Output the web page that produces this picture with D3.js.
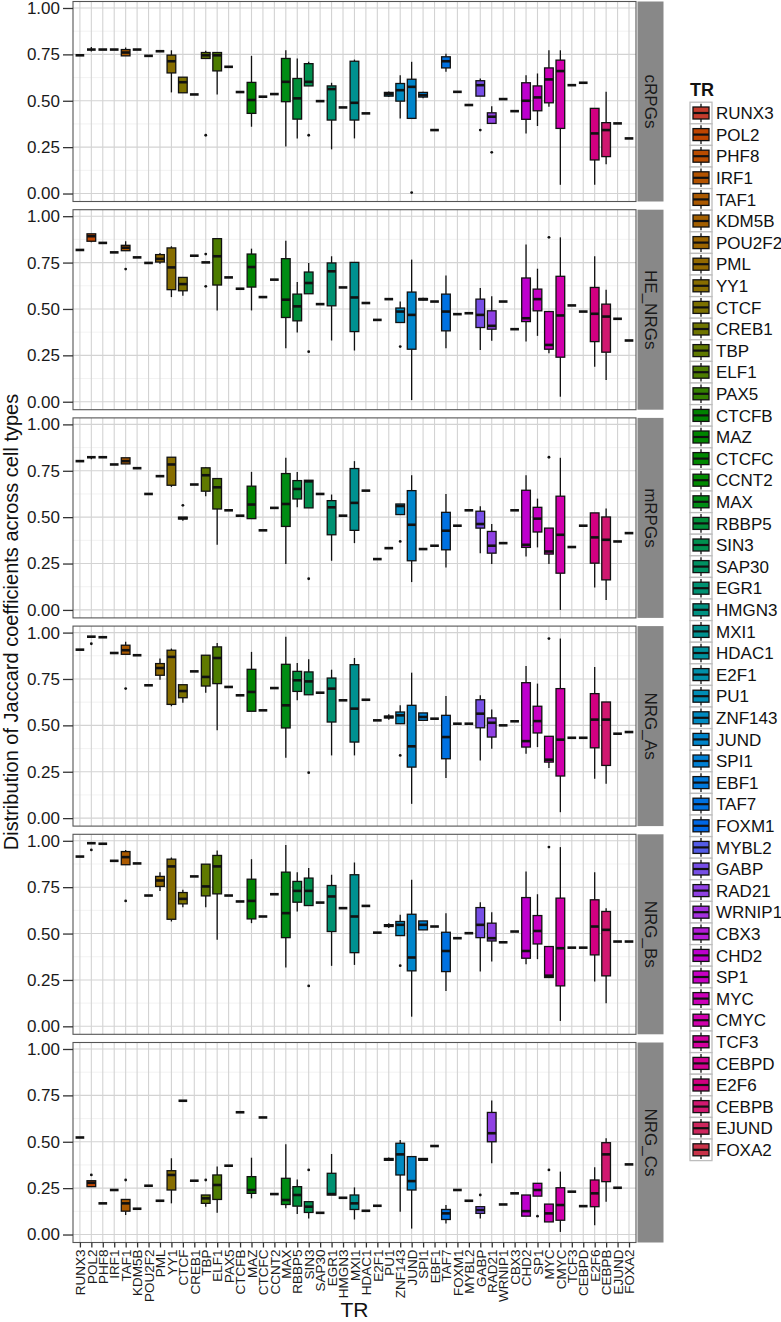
<!DOCTYPE html>
<html><head><meta charset="utf-8">
<script src="https://cdn.jsdelivr.net/npm/d3@7"></script>
<style>body{margin:0;background:#fff}svg{display:block;font-family:"Liberation Sans",Arial,sans-serif}</style>
</head><body><svg id="c" width="781" height="1322"></svg>
<script>
const trs = ["RUNX3","POL2","PHF8","IRF1","TAF1","KDM5B","POU2F2","PML","YY1","CTCF","CREB1","TBP","ELF1","PAX5","CTCFB","MAZ","CTCFC","CCNT2","MAX","RBBP5","SIN3","SAP30","EGR1","HMGN3","MXI1","HDAC1","E2F1","PU1","ZNF143","JUND","SPI1","EBF1","TAF7","FOXM1","MYBL2","GABP","RAD21","WRNIP1","CBX3","CHD2","SP1","MYC","CMYC","TCF3","CEBPD","E2F6","CEBPB","EJUND","FOXA2"];
const facets = ["cRPGs","HE_NRGs","mRPGs","NRG_As","NRG_Bs","NRG_Cs"];
const yTicks = [0,0.25,0.5,0.75,1];
const yMinor = [0.125,0.375,0.625,0.875];

// each entry: single value (all stats equal) or [lower whisker, q1, median, q3, upper whisker]
const cRPGs = [
 0.745,[0.765,0.776,0.776,0.776,0.79],0.776,0.776,[0.742,0.742,0.76,0.776,0.787],0.776,0.742,0.767,[0.545,0.65,0.713,0.746,0.772],[0.543,0.543,0.60,0.627,0.627],
 0.534,[0.728,0.728,0.745,0.76,0.769],[0.534,0.661,0.745,0.76,0.76],0.683,0.547,[0.36,0.432,0.504,0.599,0.742],0.522,0.536,[0.254,0.495,0.602,0.728,0.772],[0.297,0.401,0.513,0.62,0.728],
 [0.58,0.58,0.602,0.70,0.71],0.498,[0.238,0.396,0.563,0.58,0.597],0.464,[0.297,0.396,0.489,0.713,0.722],0.432,null,[0.52,0.525,0.535,0.545,0.55],[0.405,0.498,0.557,0.593,0.638],[0.405,0.405,0.575,0.616,0.71],
 [0.513,0.52,0.53,0.545,0.548],0.342,[0.656,0.677,0.713,0.737,0.754],0.548,0.477,[0.525,0.525,0.584,0.608,0.62],[0.378,0.378,0.414,0.435,0.471],0.509,0.444,[0.324,0.40,0.50,0.597,0.638],
 [0.364,0.446,0.518,0.58,0.647],[0.468,0.489,0.615,0.677,0.772],[0.047,0.351,0.66,0.719,0.772],0.584,0.597,[0.047,0.181,0.324,0.459,0.459],[0.158,0.199,0.342,0.382,0.548],0.378,0.297
];
const HE_NRGs = [
 0.818,[0.86,0.865,0.892,0.905,0.905],0.856,0.805,[0.814,0.814,0.83,0.843,0.865],0.778,0.748,[0.744,0.753,0.77,0.793,0.802],[0.564,0.604,0.724,0.829,0.838],[0.571,0.598,0.634,0.67,0.67],
 0.787,0.751,[0.492,0.629,0.784,0.879,0.879],0.67,0.609,[0.492,0.618,0.726,0.796,0.825],0.564,0.658,[0.288,0.454,0.55,0.771,0.868],[0.373,0.436,0.514,0.58,0.645],
 [0.582,0.582,0.64,0.699,0.748],0.526,[0.33,0.517,0.703,0.748,0.784],0.616,[0.276,0.378,0.562,0.751,0.751],0.532,0.441,0.553,[0.427,0.427,0.486,0.505,0.54],[0.009,0.283,0.468,0.591,0.766],
 [0.545,0.548,0.553,0.556,0.56],0.54,[0.288,0.382,0.486,0.58,0.681],0.472,0.477,[0.279,0.40,0.468,0.553,0.613],[0.328,0.391,0.409,0.49,0.568],0.54,0.391,[0.324,0.432,0.45,0.667,0.847],
 [0.355,0.49,0.553,0.607,0.717],[0.261,0.283,0.306,0.486,0.486],[0.027,0.24,0.465,0.676,0.886],0.519,0.486,[0.189,0.324,0.474,0.616,0.784],[0.117,0.267,0.459,0.526,0.604],0.447,0.33
];
const mRPGs = [
 0.802,[0.812,0.823,0.823,0.823,0.823],0.823,0.784,[0.787,0.787,0.802,0.82,0.82],0.764,0.625,0.721,[0.663,0.672,0.784,0.823,0.823],[0.48,0.49,0.495,0.50,0.50],
 0.676,[0.613,0.64,0.726,0.766,0.77],[0.351,0.544,0.661,0.708,0.708],0.537,0.508,[0.492,0.492,0.568,0.667,0.744],0.429,0.55,[0.247,0.45,0.571,0.735,0.82],[0.553,0.598,0.652,0.697,0.744],
 [0.55,0.55,0.693,0.699,0.699],0.625,[0.265,0.405,0.553,0.589,0.622],0.508,[0.36,0.429,0.577,0.762,0.802],0.643,0.274,0.333,[0.514,0.514,0.56,0.571,0.571],[0.15,0.265,0.459,0.643,0.726],
 0.328,0.346,[0.229,0.324,0.427,0.526,0.625],0.454,0.537,[0.306,0.441,0.463,0.532,0.559],[0.247,0.306,0.346,0.423,0.463],0.36,0.537,[0.288,0.337,0.351,0.645,0.726],
 [0.337,0.42,0.492,0.553,0.60],[0.247,0.301,0.315,0.441,0.441],[0.0,0.198,0.405,0.613,0.82],0.339,0.454,[0.121,0.252,0.391,0.523,0.523],[0.054,0.162,0.378,0.501,0.546],0.369,0.414
];
const NRG_As = [
 0.908,0.978,0.975,0.89,[0.883,0.883,0.905,0.932,0.95],0.878,0.716,[0.746,0.77,0.809,0.833,0.86],[0.603,0.613,0.869,0.905,0.914],[0.622,0.649,0.685,0.719,0.719],
 0.791,[0.676,0.712,0.761,0.878,0.878],[0.473,0.725,0.863,0.923,0.944],0.707,0.662,[0.576,0.576,0.68,0.802,0.896],0.581,0.701,[0.326,0.486,0.608,0.829,0.977],[0.635,0.683,0.743,0.791,0.836],
 [0.665,0.665,0.737,0.788,0.856],0.676,[0.338,0.518,0.698,0.755,0.80],0.635,[0.338,0.41,0.59,0.827,0.863],0.638,0.527,[0.53,0.54,0.545,0.55,0.56],[0.509,0.509,0.554,0.572,0.608],[0.077,0.275,0.387,0.608,0.784],
 [0.527,0.527,0.545,0.567,0.567],0.536,[0.216,0.32,0.437,0.554,0.658],0.509,0.509,[0.311,0.487,0.563,0.638,0.662],[0.374,0.437,0.514,0.54,0.586],0.50,0.522,[0.347,0.383,0.415,0.73,0.82],
 [0.383,0.459,0.523,0.603,0.725],[0.27,0.302,0.315,0.441,0.441],[0.032,0.227,0.423,0.698,0.968],0.433,0.433,[0.212,0.379,0.531,0.671,0.815],[0.185,0.284,0.531,0.626,0.626],0.455,0.464
];
const NRG_Bs = [
 0.915,0.987,0.984,0.892,[0.871,0.871,0.912,0.942,0.951],0.878,0.705,[0.73,0.754,0.786,0.808,0.831],[0.565,0.577,0.862,0.901,0.91],[0.642,0.66,0.687,0.721,0.736],
 0.808,[0.642,0.703,0.754,0.874,0.874],[0.466,0.714,0.862,0.921,0.948],0.705,0.673,[0.556,0.579,0.676,0.793,0.901],0.592,0.712,[0.317,0.478,0.61,0.831,0.978],[0.619,0.669,0.73,0.781,0.831],
 [0.651,0.651,0.73,0.799,0.853],0.667,[0.326,0.511,0.70,0.759,0.817],0.637,[0.331,0.397,0.592,0.817,0.883],0.649,0.505,[0.53,0.538,0.543,0.548,0.555],[0.489,0.489,0.547,0.565,0.601],[0.052,0.299,0.371,0.604,0.79],
 [0.52,0.52,0.547,0.568,0.568],0.538,[0.191,0.295,0.406,0.507,0.61],0.475,0.502,[0.295,0.478,0.547,0.64,0.669],[0.349,0.46,0.475,0.556,0.615],0.453,0.511,[0.335,0.367,0.406,0.694,0.835],
 [0.362,0.444,0.514,0.597,0.712],[0.263,0.263,0.273,0.43,0.43],[0.029,0.218,0.421,0.691,0.966],0.424,0.424,[0.241,0.385,0.538,0.682,0.831],[0.124,0.272,0.52,0.619,0.637],0.457,0.457
];
const NRG_Cs = [
 0.523,[0.258,0.258,0.279,0.29,0.29],0.168,0.24,[0.105,0.126,0.168,0.189,0.189],0.139,0.263,0.182,[0.168,0.24,0.321,0.344,0.411],0.721,
 0.29,[0.15,0.168,0.195,0.213,0.213],[0.117,0.189,0.267,0.321,0.366],0.371,0.659,[0.195,0.222,0.24,0.312,0.414],0.631,0.218,[0.141,0.162,0.186,0.303,0.486],[0.11,0.153,0.213,0.258,0.297],
 [0.086,0.119,0.15,0.177,0.177],0.117,[0.213,0.213,0.218,0.33,0.434],0.198,[0.081,0.135,0.168,0.213,0.254],0.128,0.155,[0.398,0.40,0.405,0.41,0.415],[0.123,0.321,0.432,0.492,0.51],[0.032,0.24,0.288,0.42,0.42],
 [0.40,0.40,0.405,0.41,0.41],0.477,[0.06,0.081,0.114,0.135,0.159],0.24,0.182,[0.086,0.114,0.132,0.15,0.15],[0.384,0.50,0.546,0.658,0.723],0.162,0.222,[0.099,0.099,0.126,0.213,0.213],
 [0.207,0.207,0.24,0.276,0.276],[0.068,0.068,0.114,0.164,0.164],[0.014,0.077,0.159,0.252,0.339],0.231,0.153,[0.05,0.15,0.222,0.294,0.362],[0.177,0.285,0.432,0.495,0.519],0.252,0.378
];
const outliers_cRPGs = [["TBP",0.314],["SIN3",0.314],["JUND",0.005],["GABP",0.342],["RAD21",0.222]];
const outliers_HE_NRGs = [["TAF1",0.715],["TBP",0.796],["TBP",0.622],["SIN3",0.27],["ZNF143",0.297],["MYC",0.886]];
const outliers_mRPGs = [["CTCF",0.564],["SIN3",0.168],["ZNF143",0.369],["MYC",0.823]];
const outliers_NRG_As = [["POL2",0.94],["TAF1",0.698],["SIN3",0.245],["ZNF143",0.338],["MYC",0.968]];
const outliers_NRG_Bs = [["POL2",0.951],["TAF1",0.676],["SIN3",0.218],["ZNF143",0.327],["MYC",0.966]];
const outliers_NRG_Cs = [["POL2",0.321],["TAF1",0.294],["TBP",0.294],["SIN3",0.348],["GABP",0.213],["SP1",0.099],["MYC",0.348]];

const panelStats = [cRPGs, HE_NRGs, mRPGs, NRG_As, NRG_Bs, NRG_Cs];
const panelOutliers = [outliers_cRPGs, outliers_HE_NRGs, outliers_mRPGs, outliers_NRG_As, outliers_NRG_Bs, outliers_NRG_Cs];

// R-style hcl (polar CIE-Luv) -> hex
function hclR(h, c, l) {
  const WY = 100, Wu = 0.1978398, Wv = 0.4683363;
  const hr = h * Math.PI / 180, U = c * Math.cos(hr), V = c * Math.sin(hr);
  const Y = l > 7.999592 ? WY * Math.pow((l + 16) / 116, 3) : WY * l / 903.3;
  const u = U / (13 * l) + Wu, v = V / (13 * l) + Wv;
  const X = 9 * Y * u / (4 * v), Z = -X / 3 - 5 * Y + 3 * Y / v;
  const g = t => { t = t > 0.00304 ? 1.055 * Math.pow(t, 1 / 2.4) - 0.055 : 12.92 * t; return Math.round(255 * Math.max(0, Math.min(1, t))); };
  const r = g((3.240479 * X - 1.537150 * Y - 0.498535 * Z) / WY);
  const gg = g((-0.969256 * X + 1.875992 * Y + 0.041556 * Z) / WY);
  const b = g((0.055648 * X - 0.204043 * Y + 1.057311 * Z) / WY);
  return d3.rgb(r, gg, b).formatHex();
}
const color = d3.scaleOrdinal().domain(trs).range(trs.map((t, i) => hclR(15 + 360 * i / trs.length, 110, 46)));

const svg = d3.select("#c");
const OFF = 1.5, PL = 73, PR = 636, PH = 200, PITCH = 208.2;
const x = d3.scalePoint().domain(trs).range([79.9, 629]);
const step = x.step();
const bw = step * 0.76;
const ink = "#111";

facets.forEach((f, k) => {
  const top = OFF + k * PITCH;
  const y = d3.scaleLinear().domain([-0.043, 1.035]).range([top + PH, top]);
  const g = svg.append("g");
  g.append("rect").attr("x", PL).attr("y", top).attr("width", PR - PL).attr("height", PH).attr("fill", "#fff");
  g.selectAll(".mn").data(yMinor).join("line").attr("x1", PL).attr("x2", PR).attr("y1", d => y(d)).attr("y2", d => y(d)).attr("stroke", "#ececec").attr("stroke-width", 0.7);
  g.selectAll(".mjh").data(yTicks).join("line").attr("x1", PL).attr("x2", PR).attr("y1", d => y(d)).attr("y2", d => y(d)).attr("stroke", "#d3d3d3").attr("stroke-width", 1.1);
  g.selectAll(".mjv").data(trs).join("line").attr("x1", d => x(d)).attr("x2", d => x(d)).attr("y1", top).attr("y2", top + PH).attr("stroke", "#d3d3d3").attr("stroke-width", 1.1);

  const rows = panelStats[k].map((s, i) => s === null ? null : { tr: trs[i], s: Array.isArray(s) ? s : [s, s, s, s, s] }).filter(d => d);
  const bx = g.selectAll(".bx").data(rows).join("g");
  bx.append("line").attr("x1", d => x(d.tr)).attr("x2", d => x(d.tr)).attr("y1", d => y(d.s[0])).attr("y2", d => y(d.s[1])).attr("stroke", ink).attr("stroke-width", 1.3);
  bx.append("line").attr("x1", d => x(d.tr)).attr("x2", d => x(d.tr)).attr("y1", d => y(d.s[3])).attr("y2", d => y(d.s[4])).attr("stroke", ink).attr("stroke-width", 1.3);
  bx.append("rect").attr("x", d => x(d.tr) - bw / 2).attr("width", bw).attr("y", d => y(d.s[3])).attr("height", d => y(d.s[1]) - y(d.s[3]))
    .attr("fill", d => color(d.tr)).attr("stroke", ink).attr("stroke-width", 1.3);
  bx.append("line").attr("x1", d => x(d.tr) - bw / 2).attr("x2", d => x(d.tr) + bw / 2).attr("y1", d => y(d.s[2])).attr("y2", d => y(d.s[2])).attr("stroke", ink).attr("stroke-width", 2.6);
  g.selectAll(".ol").data(panelOutliers[k]).join("circle").attr("cx", d => x(d[0])).attr("cy", d => y(d[1])).attr("r", 1.4).attr("fill", ink);

  g.append("rect").attr("x", PL).attr("y", top).attr("width", PR - PL).attr("height", PH).attr("fill", "none").attr("stroke", "#555").attr("stroke-width", 1.1);
  // strip
  g.append("rect").attr("x", PR + 1.5).attr("y", top).attr("width", 26).attr("height", PH).attr("fill", "#888");
  g.append("text").attr("transform", `translate(${PR + 14.5},${top + PH / 2}) rotate(90)`).attr("text-anchor", "middle").attr("dy", "0.35em")
    .attr("font-size", 17).attr("fill", "#1a1a1a").text(f);
  // y axis
  const ax = g.append("g").attr("transform", `translate(${PL},0)`).call(d3.axisLeft(y).tickValues(yTicks).tickFormat(d3.format(".2f")).tickSize(10).tickPadding(3));
  ax.select(".domain").remove();
  ax.selectAll("line").attr("stroke", "#333").attr("stroke-width", 1.3);
  ax.selectAll("text").attr("font-size", 17).attr("fill", "#1a1a1a").attr("font-family", "Liberation Sans, Arial, sans-serif");
});

// x axis
const bottom = OFF + 5 * PITCH + PH;
const xa = svg.append("g").attr("transform", `translate(0,${bottom})`).call(d3.axisBottom(x).tickSize(5).tickPadding(2));
xa.select(".domain").remove();
xa.selectAll("line").attr("stroke", "#333").attr("stroke-width", 1.3);
xa.selectAll("text").attr("transform", "rotate(-90)").attr("text-anchor", "end").attr("x", -7).attr("y", 0).attr("dy", "0.35em")
  .attr("font-size", 13.5).attr("fill", "#1a1a1a").attr("font-family", "Liberation Sans, Arial, sans-serif");

svg.append("text").attr("x", (PL + PR) / 2).attr("y", 1317).attr("text-anchor", "middle").attr("font-size", 21).attr("fill", "#111").text("TR");
svg.append("text").attr("transform", `translate(18,${OFF + (5 * PITCH + PH) / 2}) rotate(-90)`).attr("text-anchor", "middle").attr("font-size", 20).attr("fill", "#111")
  .text("Distribution of Jaccard coefficients across cell types");

// legend
const LX = 690, LY0 = 113, LS = 21.6, KW = 22;
svg.append("text").attr("x", LX).attr("y", 96).attr("font-size", 18).attr("font-weight", "bold").attr("fill", "#111").text("TR");
const lg = svg.selectAll(".lg").data(trs).join("g").attr("transform", (d, i) => `translate(${LX},${LY0 + i * LS})`);
lg.append("rect").attr("x", 0).attr("y", -LS / 2).attr("width", KW).attr("height", LS).attr("fill", "#fff").attr("stroke", "#bdbdbd").attr("stroke-width", 1.3);
lg.append("line").attr("x1", KW / 2).attr("x2", KW / 2).attr("y1", -LS / 2 + 1.5).attr("y2", LS / 2 - 1.5).attr("stroke", ink).attr("stroke-width", 1.3);
lg.append("rect").attr("x", 3).attr("y", -6).attr("width", KW - 6).attr("height", 12).attr("fill", d => color(d)).attr("stroke", ink).attr("stroke-width", 1.3);
lg.append("line").attr("x1", 3).attr("x2", KW - 3).attr("y1", 0).attr("y2", 0).attr("stroke", ink).attr("stroke-width", 2.2);
lg.append("text").attr("x", KW + 4).attr("y", 0).attr("dy", "0.36em").attr("font-size", 17).attr("fill", "#111").text(d => d);
</script></body></html>
